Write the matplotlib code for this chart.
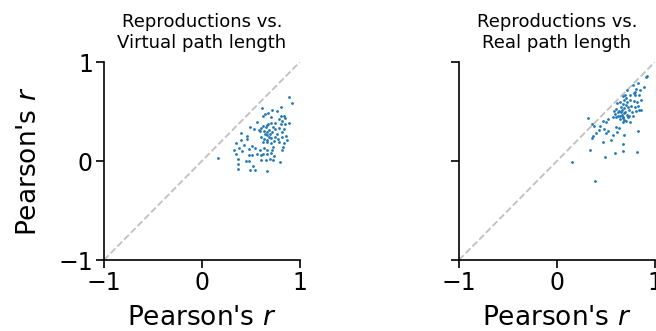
import matplotlib
matplotlib.use('Agg')
import matplotlib.pyplot as plt

titles = ['Reproductions vs.\nVirtual path length', 'Reproductions vs.\nReal path length']

virtual_x = [0.16, 0.89, 0.92, 0.61, 0.81, 0.72, 0.77, 0.68, 0.62, 0.64,
             0.81, 0.84, 0.85, 0.82, 0.81, 0.89, 0.75, 0.71, 0.68, 0.67,
             0.65, 0.62, 0.60, 0.58, 0.49, 0.53, 0.59, 0.63, 0.66, 0.69,
             0.72, 0.75, 0.79, 0.84, 0.82, 0.40, 0.46, 0.46, 0.35, 0.40,
             0.43, 0.60, 0.63, 0.66, 0.69, 0.71, 0.75, 0.78, 0.82, 0.86,
             0.62, 0.67, 0.71, 0.74, 0.79, 0.84, 0.33, 0.38, 0.35, 0.41,
             0.48, 0.51, 0.54, 0.56, 0.59, 0.63, 0.66, 0.72, 0.73, 0.82,
             0.48, 0.51, 0.60, 0.62, 0.67, 0.71, 0.74, 0.37, 0.45, 0.48,
             0.52, 0.60, 0.65, 0.70, 0.73, 0.80, 0.37, 0.37, 0.49, 0.54,
             0.67, 0.70, 0.66, 0.73, 0.77, 0.64, 0.85, 0.79, 0.56, 0.71,
             0.87, 0.83]
virtual_y = [0.03, 0.65, 0.59, 0.54, 0.55, 0.52, 0.51, 0.49, 0.46, 0.48,
             0.46, 0.45, 0.43, 0.40, 0.37, 0.38, 0.38, 0.38, 0.37, 0.36,
             0.34, 0.35, 0.33, 0.31, 0.34, 0.32, 0.30, 0.30, 0.29, 0.31,
             0.29, 0.32, 0.33, 0.32, 0.29, 0.28, 0.25, 0.22, 0.18, 0.21,
             0.16, 0.24, 0.22, 0.21, 0.24, 0.23, 0.24, 0.22, 0.24, 0.25,
             0.19, 0.19, 0.18, 0.20, 0.19, 0.18, 0.11, 0.13, 0.07, 0.10,
             0.12, 0.15, 0.13, 0.07, 0.11, 0.13, 0.11, 0.11, 0.14, 0.11,
             0.06, 0.06, 0.06, 0.07, 0.07, 0.08, 0.05, 0.02, 0.00, 0.00,
             -0.05, 0.01, 0.01, 0.02, 0.01, -0.01, -0.03, -0.08, -0.09, -0.09,
             -0.10, 0.27, 0.26, 0.34, 0.27, 0.27, 0.37, 0.42, 0.39, 0.44,
             0.21, 0.14]

real_x = [0.15, 0.39, 0.34, 0.49, 0.59, 0.68, 0.82, 0.68, 0.47, 0.55,
          0.36, 0.37, 0.40, 0.43, 0.48, 0.52, 0.50, 0.57, 0.61, 0.69,
          0.83, 0.32, 0.36, 0.38, 0.44, 0.47, 0.50, 0.52, 0.57, 0.60,
          0.63, 0.67, 0.71, 0.75, 0.59, 0.62, 0.64, 0.65, 0.69, 0.72,
          0.74, 0.78, 0.81, 0.84, 0.86, 0.58, 0.60, 0.63, 0.66, 0.69,
          0.73, 0.76, 0.80, 0.61, 0.64, 0.67, 0.69, 0.72, 0.79, 0.82,
          0.68, 0.70, 0.71, 0.75, 0.80, 0.84, 0.72, 0.78, 0.81, 0.83,
          0.85, 0.89, 0.91, 0.92, 0.80, 0.79, 0.64, 0.67, 0.69, 0.73,
          0.66, 0.70, 0.62, 0.74, 0.68, 0.77, 0.60, 0.71, 0.65, 0.75,
          0.86, 0.83]
real_y = [-0.01, -0.20, 0.11, 0.04, 0.08, 0.10, 0.09, 0.17, 0.19, 0.21,
          0.23, 0.25, 0.28, 0.31, 0.32, 0.30, 0.28, 0.26, 0.29, 0.26,
          0.30, 0.43, 0.37, 0.35, 0.35, 0.40, 0.39, 0.42, 0.44, 0.34,
          0.33, 0.39, 0.40, 0.39, 0.48, 0.46, 0.45, 0.50, 0.49, 0.47,
          0.45, 0.46, 0.51, 0.52, 0.52, 0.51, 0.53, 0.51, 0.52, 0.54,
          0.55, 0.56, 0.55, 0.59, 0.60, 0.58, 0.62, 0.60, 0.61, 0.60,
          0.66, 0.67, 0.64, 0.67, 0.67, 0.67, 0.72, 0.77, 0.73, 0.79,
          0.72, 0.75, 0.85, 0.86, 0.70, 0.69, 0.42, 0.43, 0.41, 0.44,
          0.47, 0.50, 0.50, 0.52, 0.44, 0.50, 0.44, 0.57, 0.55, 0.62,
          0.62, 0.56]

panels = [(virtual_x, virtual_y), (real_x, real_y)]

fig = plt.figure(figsize=(6.56, 3.31), dpi=100)
lefts = [0.1585, 0.6997]
for i, (xs, ys) in enumerate(panels):
    ax = fig.add_axes([lefts[i], 0.2145, 0.2985, 0.598])
    ax.plot([-1, 1], [-1, 1], ls='--', color='#c0c0c0', lw=1.3, zorder=1)
    ax.scatter(xs, ys, s=4, color='tab:blue', linewidths=0, zorder=2)
    ax.set_xlim(-1, 1)
    ax.set_ylim(-1, 1)
    ax.set_xticks([-1, 0, 1])
    ax.set_yticks([-1, 0, 1])
    ax.tick_params(labelsize=17, length=6, width=1.2, pad=2)
    for s in ['top', 'right']:
        ax.spines[s].set_visible(False)
    for s in ['left', 'bottom']:
        ax.spines[s].set_linewidth(1.2)
    ax.set_xlabel("Pearson's $r$", fontsize=19, labelpad=7)
    ax.set_title(titles[i], fontsize=13, pad=10)
    if i == 0:
        ax.set_ylabel("Pearson's $r$", fontsize=19, labelpad=12)
    else:
        ax.set_yticklabels([])

fig.savefig('out.png', dpi=100)
